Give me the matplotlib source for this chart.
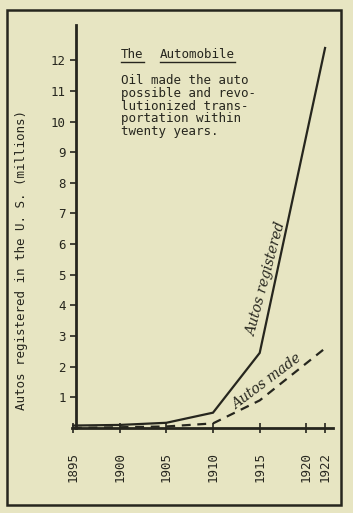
import matplotlib
matplotlib.use("Agg")
import matplotlib.pyplot as plt
from matplotlib.lines import Line2D
from matplotlib.patches import Rectangle

# ---- data ----
years_reg = [1895, 1900, 1905, 1910, 1915, 1922]
autos_registered = [0.08, 0.1, 0.17, 0.5, 2.45, 12.4]
years_made = [1895, 1905, 1910, 1915, 1922]
autos_made = [0.0, 0.05, 0.15, 0.9, 2.6]
x_ticks = [1895, 1900, 1905, 1910, 1915, 1920, 1922]
y_ticks = list(range(1, 13))
title = "The  Automobile"
body = ["Oil made the auto", "possible and revo-", "lutionized trans-",
        "portation within", "twenty years."]
ylabel = "Autos registered in the U. S. (millions)"

BG = "#e7e5c2"
INK = "#26261e"
MONO = "DejaVu Sans Mono"

W, H = 353, 513
fig = plt.figure(figsize=(W / 100, H / 100), dpi=100, facecolor=BG)

def fx(px):
    return px / W

def fy(py):
    return 1 - py / H

# outer frame
fig.patches.append(Rectangle((fx(7), fy(505)), fx(341) - fx(7), fy(10) - fy(505),
                             transform=fig.transFigure, fill=False,
                             edgecolor=INK, linewidth=1.8))

ax = fig.add_axes([fx(72), fy(428), fx(333) - fx(72), fy(25) - fy(428)])
ax.set_facecolor("none")
ax.set_xlim(1894.9, 1922.85)
ax.set_ylim(0, 13.15)

for s in ["top", "right"]:
    ax.spines[s].set_visible(False)
ax.spines["left"].set_position(("data", 1895.3))
ax.spines["left"].set_linewidth(2.0)
ax.spines["bottom"].set_linewidth(2.0)
ax.spines["left"].set_color(INK)
ax.spines["bottom"].set_color(INK)

ax.plot(years_reg, autos_registered, color=INK, lw=1.6, solid_joinstyle="miter")
ax.plot(years_made, autos_made, color=INK, lw=1.6, dashes=(4, 3))

ax.set_yticks(y_ticks)
ax.set_yticklabels([str(v) for v in y_ticks], family=MONO, fontsize=9, color=INK)
ax.tick_params(axis="y", direction="out", length=4, width=1.2, pad=3, colors=INK)
ax.set_xticks(x_ticks)
ax.set_xticklabels([str(v) for v in x_ticks], family=MONO, fontsize=9,
                   rotation=90, color=INK)
ax.tick_params(axis="x", direction="inout", length=7, width=1.2, pad=14, colors=INK)

fig.text(fx(22), fy(260), ylabel, rotation=90, family=MONO, fontsize=9,
         color=INK, ha="center", va="center")

# title with underlines
t1 = fig.text(fx(121), fy(54), "The", family=MONO, fontsize=9, color=INK,
              ha="left", va="center")
t2 = fig.text(fx(121 + 5 * 7.7), fy(54), "Automobile", family=MONO, fontsize=9,
              color=INK, ha="left", va="center")
fig.canvas.draw()
r = fig.canvas.get_renderer()
for t in (t1, t2):
    bb = t.get_window_extent(r)
    fig.add_artist(Line2D([bb.x0 / W, bb.x1 / W], [(bb.y0 - 1) / H] * 2,
                          transform=fig.transFigure, color=INK, lw=1.0))

for i, line in enumerate(body):
    fig.text(fx(121), fy(80 + 13 * i), line, family=MONO, fontsize=9,
             color=INK, ha="left", va="center")

# handwritten labels
hand = dict(family="DejaVu Serif", style="italic", fontsize=10, color=INK,
            ha="center", va="center", rotation_mode="anchor")
fig.text(fx(266), fy(280), "Autos registered", rotation=75, **hand)
fig.text(fx(267), fy(382), "Autos made", rotation=37, **hand)

fig.savefig("out.png", dpi=100, facecolor=BG)
